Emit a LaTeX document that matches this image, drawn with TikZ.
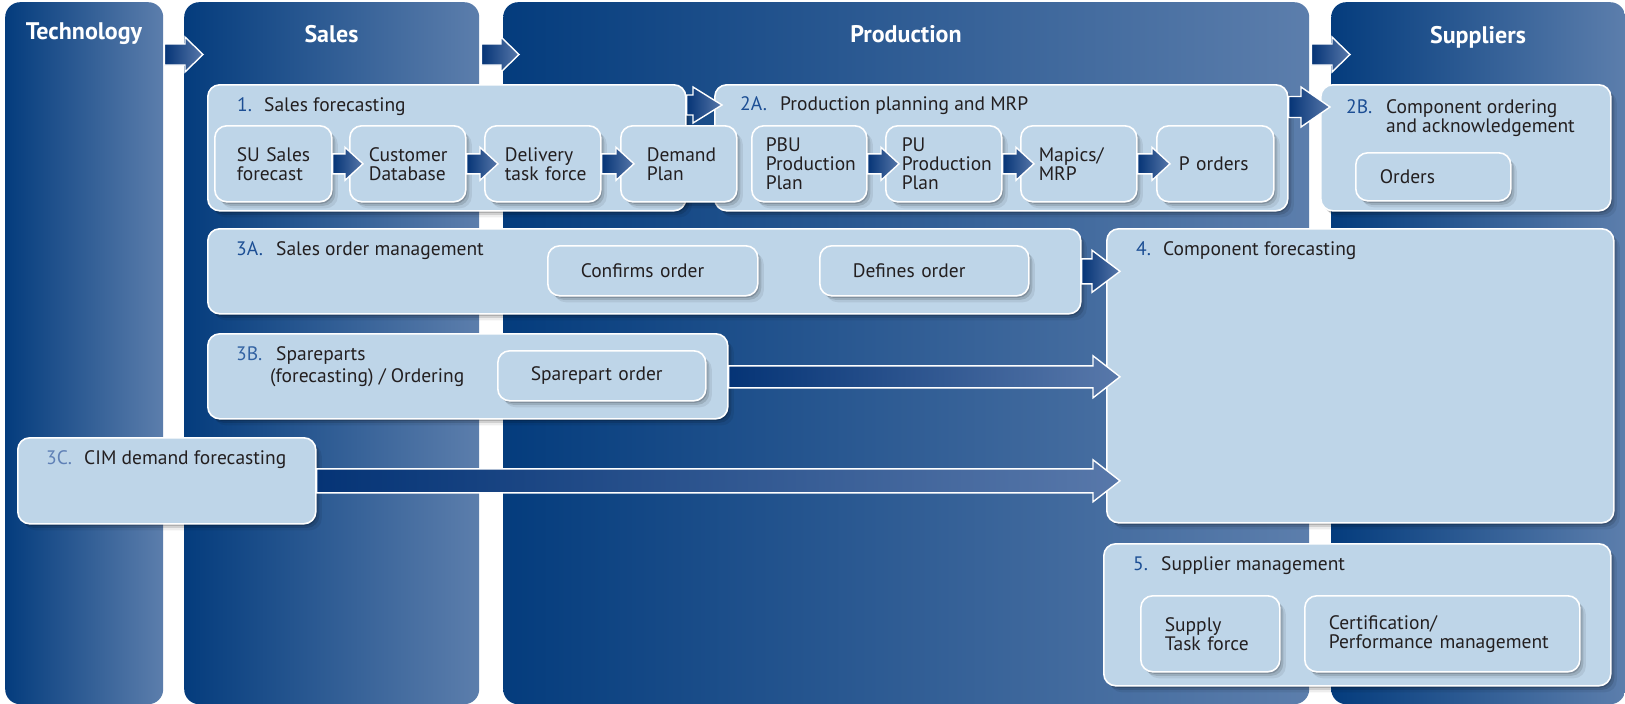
\documentclass[tikz,border=0pt]{standalone}
\usepackage{fontspec}
\setmainfont{PT Sans}
\usetikzlibrary{shadows,calc}
\definecolor{boxfill}{RGB}{190,213,232}
\definecolor{coldark}{RGB}{4,60,125}
\definecolor{collight}{RGB}{92,126,172}
\definecolor{numblue}{RGB}{28,78,148}
\definecolor{nummid}{RGB}{50,98,162}
\definecolor{numlight}{RGB}{95,128,182}
\definecolor{txt}{RGB}{35,31,32}
\definecolor{arrdark}{RGB}{5,52,118}
\definecolor{arrlight}{RGB}{88,120,170}
\newcommand\numlab[3][numblue]{\makebox[#2pt][l]{\color{#1}#3}}
\newcommand\bodyfont{\fontsize{19.5pt}{19pt}\selectfont}
\newcommand\headfont{\fontsize{24pt}{26pt}\selectfont\bfseries}
\newcommand\blockarrow[6][]{%
  \path[blockarr,#1] let \p1=(#2), \p2=(#3) in
    (\x1,\y1+#4pt) -- (\x2-#6pt,\y1+#4pt) -- (\x2-#6pt,\y1+#5pt) -- (\x2,\y1) --
    (\x2-#6pt,\y1-#5pt) -- (\x2-#6pt,\y1-#4pt) -- (\x1,\y1-#4pt) -- cycle;}
\tikzset{
  softshadow/.style={
    general shadow={shadow xshift=1.5pt, shadow yshift=-2pt, fill=black, draw=none, opacity=.16},
    general shadow={shadow xshift=3.5pt, shadow yshift=-4pt, fill=black, draw=none, opacity=.12},
    general shadow={shadow xshift=6pt, shadow yshift=-6.5pt, fill=black, draw=none, opacity=.07}},
  column/.style={rounded corners=15pt, left color=coldark, right color=collight, draw=none, inner sep=0pt, anchor=north west},
  bigbox/.style={rounded corners=12pt, fill=boxfill, draw=white, line width=1.6pt, softshadow, inner sep=0pt, anchor=north west},
  ibox/.style={rounded corners=12pt, fill=boxfill, draw=white, line width=1.6pt, softshadow, inner ysep=0pt, align=left, font=\bodyfont, text=txt, anchor=north west},
  title/.style={font=\bodyfont, text=txt, inner sep=0pt, anchor=base west},
  colhead/.style={font=\headfont, text=white, inner sep=0pt, anchor=base},
  blockarr/.style={draw=white, line width=1.4pt, left color=arrdark, right color=arrlight, line join=miter},
}
\begin{document}
\begin{tikzpicture}[x=1pt,y=-1pt]
\fill[white] (0,0) rectangle (1625,704);
\useasboundingbox (0,0) rectangle (1625,704);
% columns
\node[column, minimum width=158pt, minimum height=702pt] (ctech) at (5,2) {};
\node[column, minimum width=295pt, minimum height=702pt] (csales) at (184,2) {};
\node[column, minimum width=806pt, minimum height=702pt] (cprod) at (503,2) {};
\node[column, minimum width=294pt, minimum height=702pt] (csup) at (1331,2) {};
\node[colhead] (htech) at (84,39) {Technology};
\node[colhead] (hsales) at (331.5,42) {Sales};
\node[colhead] (hprod) at (906,42) {Production};
\node[colhead] (hsup) at (1478,43) {Suppliers};
% header arrows
\blockarrow{$(ctech.north east)+(1,52.5)$}{$(csales.north west)+(19,52.5)$}{10.5}{17.5}{18}
\blockarrow{$(csales.north east)+(2,52.5)$}{$(cprod.north west)+(16,52.5)$}{10.5}{17.5}{18}
\blockarrow{$(cprod.north east)+(2,52.5)$}{$(csup.north west)+(19,52.5)$}{10.5}{17.5}{18}
% big boxes
\node[bigbox, minimum width=478pt, minimum height=126pt] (b1) at (207,84) {};
\node[bigbox, minimum width=573pt, minimum height=126pt] (b2a) at (714,84) {};
\node[bigbox, minimum width=290pt, minimum height=126pt] (b2b) at (1320,84) {};
\node[bigbox, minimum width=873pt, minimum height=85pt] (b3a) at (207,228) {};
\node[bigbox, minimum width=520pt, minimum height=85pt] (b3b) at (207,333) {};
\node[bigbox, minimum width=298pt, minimum height=86pt] (b3c) at (17,437) {};
\node[bigbox, minimum width=507pt, minimum height=294pt] (b4) at (1106,228) {};
\node[bigbox, minimum width=507pt, minimum height=142pt] (b5) at (1103,543) {};
% titles
\node[title] (t1) at (237,111) {\numlab{27}{1.}Sales forecasting};
\node[title] (t2a) at (740,110) {\numlab{40}{2A.}Production planning and MRP};
\node[title] (t2b) at (1346,113) {\begin{tabular}[t]{@{}l@{}}\numlab{40}{2B.}Component ordering\\\hspace*{40pt}and acknowledgement\end{tabular}};
\node[title] (t3a) at (236,255) {\numlab{40}{3A.}Sales order management};
\node[title] (t3b) at (236,360) {\begin{tabular}[t]{@{}l@{}}\numlab[nummid]{40}{3B.}Spareparts\\[3pt]\hspace*{34pt}(forecasting) / Ordering\end{tabular}};
\node[title] (t3c) at (46,464) {\numlab[numlight]{38}{3C.}CIM demand forecasting};
\node[title] (t4) at (1136,255) {\numlab{27}{4.}Component forecasting};
\node[title] (t5) at (1133,570) {\numlab{28}{5.}Supplier management};
% big arrows
\blockarrow{$(b1.north east)+(0,21)$}{$(b2a.north west)+(8,21)$}{10}{18}{29}
\blockarrow{$(b2a.north east)+(0,23)$}{$(b2b.north west)+(10,23)$}{10.5}{20}{29}
\blockarrow{b3a.east}{$(b4.west)+(14,0)$}{12.5}{21}{28}
\blockarrow{$(b3b.east)+(0,0.5)$}{$(b4.west)+(14,0)$}{11}{21}{27}
\blockarrow{b3c.east}{$(b4.west)+(14,0)$}{12}{21}{27}
% inner boxes
\node[ibox, text width=73pt, inner xsep=22pt, minimum height=76pt] (su) at (214,125) {SU~Sales\\forecast};
\node[ibox, text width=78pt, inner xsep=19pt, minimum height=76pt] (cust) at (349,125) {Customer\\Database};
\node[ibox, text width=76pt, inner xsep=20pt, minimum height=76pt] (deliv) at (484,125) {Delivery\\task~force};
\node[ibox, text width=64pt, inner xsep=26pt, minimum height=76pt] (demand) at (620,125) {Demand\\Plan};
\node[ibox, text width=87pt, inner xsep=14pt, minimum height=76pt] (pbu) at (751,125) {PBU\\Production\\Plan};
\node[ibox, text width=84pt, inner xsep=16pt, minimum height=76pt] (pu) at (885,125) {PU\\Production\\Plan};
\node[ibox, text width=80pt, inner xsep=18pt, minimum height=76pt] (mapics) at (1020,125) {Mapics/\\MRP};
\node[ibox, text width=73pt, inner xsep=22pt, minimum height=76pt] (porders) at (1156,125) {P~orders};
\node[ibox, text width=107pt, inner xsep=24pt, minimum height=48pt] (orders) at (1355,152) {Orders};
\node[ibox, text width=144pt, inner xsep=33pt, minimum height=50pt] (confirms) at (547,245) {Confirms~order};
\node[ibox, text width=143pt, inner xsep=33pt, minimum height=50pt] (defines) at (819,245) {Defines~order};
\node[ibox, text width=142pt, inner xsep=33pt, minimum height=50pt] (spare) at (497,350) {Sparepart~order};
\node[ibox, text width=91pt, inner xsep=24pt, minimum height=76pt] (supply) at (1140,595) {Supply\\Task~force};
\node[ibox, text width=227pt, inner xsep=24pt, minimum height=76pt] (cert) at (1304,595) {Certification/\\Performance~management};
% inner arrows
\blockarrow{su.east}{$(cust.west)+(14,0)$}{10}{16.5}{18}
\blockarrow{cust.east}{$(deliv.west)+(14,0)$}{10}{16.5}{18}
\blockarrow{deliv.east}{$(demand.west)+(14,0)$}{10}{16.5}{18}
\blockarrow{pbu.east}{$(pu.west)+(14,0)$}{10}{16.5}{18}
\blockarrow{pu.east}{$(mapics.west)+(14,0)$}{10}{16.5}{18}
\blockarrow{mapics.east}{$(porders.west)+(14,0)$}{10}{16.5}{18}
\end{tikzpicture}
\end{document}
